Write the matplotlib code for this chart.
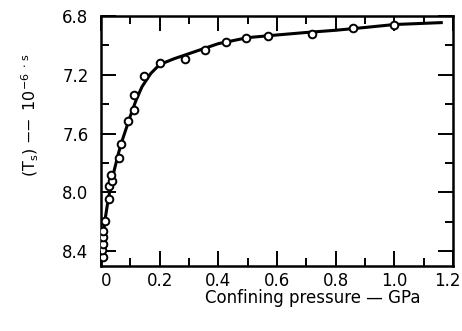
import numpy as np
from matplotlib import pyplot as plt
from matplotlib.ticker import MultipleLocator
from matplotlib.transforms import ScaledTranslation

# measured points (open circles)
pressure = [0.006, 0.003, 0.006, 0.006, 0.006, 0.015, 0.026, 0.028, 0.0375, 0.034,
            0.060, 0.068, 0.093, 0.114, 0.114, 0.146, 0.200, 0.286, 0.356, 0.425,
            0.495, 0.570, 0.718, 0.860, 0.999]
period = [8.438, 8.393, 8.347, 8.302, 8.262, 8.196, 8.046, 7.958, 7.922, 7.883,
          7.763, 7.667, 7.514, 7.441, 7.337, 7.210, 7.120, 7.090, 7.033, 6.974,
          6.947, 6.936, 6.922, 6.884, 6.858]

# fitted curve
curve_p = [0.0, 0.003, 0.008, 0.015, 0.022, 0.03, 0.04, 0.05, 0.06, 0.07, 0.08, 0.1,
           0.12, 0.14, 0.17, 0.2, 0.25, 0.3, 0.4, 0.5, 0.6, 0.7, 0.8, 0.9, 1.0, 1.16]
curve_t = [8.50, 8.40, 8.28, 8.17, 8.08, 7.99, 7.89, 7.81, 7.73, 7.66, 7.60, 7.48,
           7.37, 7.28, 7.19, 7.13, 7.09, 7.056, 6.988, 6.947, 6.929, 6.912, 6.897,
           6.878, 6.858, 6.845]

x_ticks = [0, 0.2, 0.4, 0.6, 0.8, 1.0, 1.2]
x_labels = ['0', '0.2', '0.4', '0.6', '0.8', '1.0', '1.2']
y_ticks = [6.8, 7.2, 7.6, 8.0, 8.4]
y_labels = ['6.8', '7.2', '7.6', '8.0', '8.4']

plt.rcParams.update({'font.size': 12, 'font.family': 'DejaVu Sans'})

fig = plt.figure(figsize=(4.62, 3.31), dpi=100)
ax = fig.add_axes([101 / 462, 1 - 266 / 331, 352 / 462, 250 / 331])

ax.plot(curve_p, curve_t, color='black', lw=2.2, zorder=2)
ax.plot(pressure, period, 'o', ms=5.5, mfc='white', mec='black', mew=1.4, zorder=3)

ax.set_xlim(0, 1.2)
ax.set_ylim(8.5, 6.8)

ax.xaxis.set_minor_locator(MultipleLocator(0.1))
ax.yaxis.set_minor_locator(MultipleLocator(0.2))
ax.set_yticks(y_ticks)
ax.set_yticklabels(y_labels)
ax.set_xticks(x_ticks)
ax.set_xticklabels(x_labels)

ax.tick_params(which='both', direction='in', top=True, right=True, width=1.4)
ax.tick_params(which='major', length=11)
ax.tick_params(which='minor', length=5.5)
ax.tick_params(axis='x', pad=4)
ax.tick_params(axis='y', pad=9)
for s in ax.spines.values():
    s.set_linewidth(1.8)

# nudge the end labels inward like the original print
xt = ax.get_xticklabels()
xt[0].set_transform(xt[0].get_transform() + ScaledTranslation(5 / 100, 0, fig.dpi_scale_trans))
xt[-1].set_transform(xt[-1].get_transform() + ScaledTranslation(-6 / 100, 0, fig.dpi_scale_trans))

fig.text(313 / 462, 1 - 298 / 331, 'Confining pressure \u2014 GPa', ha='center', va='center',
         fontsize=12)
fig.text(30 / 462, 1 - 115 / 331, r'(T$_\mathrm{s}$) $-\!\!-$ 10$^{-6}$ $^{\cdot\ \mathrm{s}}$',
         rotation=90, ha='center', va='center', fontsize=11.5)

fig.savefig('out.png', dpi=100)
